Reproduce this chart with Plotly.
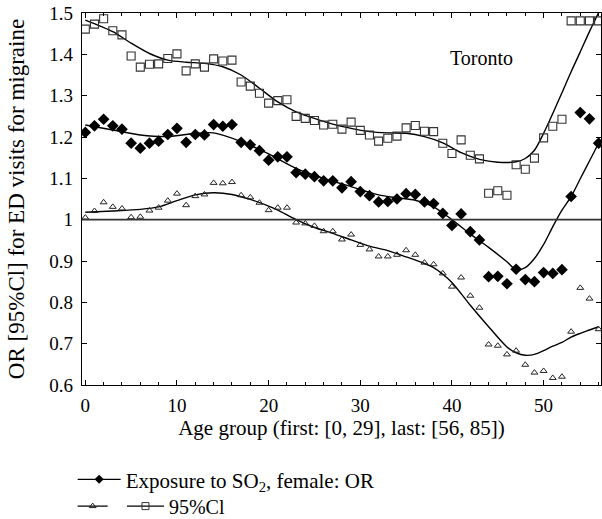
import plotly.graph_objects as go

age = list(range(57))

or_vals = [1.211, 1.227, 1.243, 1.227, 1.219, 1.185, 1.173, 1.185, 1.190, 1.206,
           1.221, 1.187, 1.206, 1.205, 1.230, 1.226, 1.230, 1.187, 1.181, 1.167,
           1.144, 1.152, 1.152, 1.114, 1.110, 1.104, 1.094, 1.094, 1.077, 1.092,
           1.068, 1.058, 1.043, 1.044, 1.050, 1.063, 1.061, 1.043, 1.039, 1.015,
           0.986, 1.014, 0.971, 0.951, 0.862, 0.863, 0.845, 0.880, 0.855, 0.850,
           0.872, 0.870, 0.879, 1.056, 1.259, 1.244, 1.185]

ci_upper = [1.461, 1.473, 1.486, 1.457, 1.447, 1.396, 1.369, 1.376, 1.377, 1.390,
            1.401, 1.360, 1.377, 1.369, 1.389, 1.384, 1.386, 1.333, 1.323, 1.306,
            1.282, 1.288, 1.290, 1.250, 1.245, 1.240, 1.229, 1.231, 1.219, 1.236,
            1.216, 1.205, 1.190, 1.197, 1.202, 1.222, 1.228, 1.214, 1.213, 1.185,
            1.160, 1.193, 1.156, 1.147, 1.064, 1.070, 1.059, 1.133, 1.122, 1.149,
            1.198, 1.226, 1.243, 1.481, 1.481, 1.481, 1.481]

ci_lower = [1.005, 1.021, 1.042, 1.031, 1.027, 1.006, 1.007, 1.022, 1.029, 1.046,
            1.063, 1.035, 1.057, 1.061, 1.089, 1.088, 1.091, 1.059, 1.054, 1.041,
            1.023, 1.029, 1.029, 0.993, 0.991, 0.985, 0.972, 0.972, 0.952, 0.964,
            0.939, 0.928, 0.911, 0.911, 0.915, 0.926, 0.915, 0.896, 0.892, 0.870,
            0.838, 0.860, 0.816, 0.787, 0.698, 0.695, 0.674, 0.683, 0.649, 0.630,
            0.634, 0.617, 0.620, 0.729, 0.835, 0.809, 0.735]

# smoothed curves
fit_or_x = [0, 3, 6, 9, 12, 14, 17, 20, 23, 26, 29, 32, 34, 36, 38, 40, 42, 44, 46,
            47, 48, 49, 50, 51, 52, 53, 54, 55, 56]
fit_or_y = [1.229, 1.217, 1.205, 1.201, 1.209, 1.210, 1.189, 1.159, 1.124, 1.100,
            1.080, 1.060, 1.053, 1.047, 1.031, 1.000, 0.965, 0.933, 0.898,
            0.879, 0.884, 0.906, 0.940, 0.983, 1.023, 1.056, 1.099, 1.142, 1.185]

fit_up_x = [0, 3, 5, 7, 9, 11, 13, 15, 17, 19, 21, 23, 25, 27, 29, 31, 33, 35, 37,
            39, 41, 43, 45, 47, 48, 49, 50, 51, 52, 53, 54, 55, 56]
fit_up_y = [1.483, 1.455, 1.427, 1.402, 1.386, 1.381, 1.378, 1.370, 1.350, 1.318,
            1.285, 1.261, 1.245, 1.231, 1.221, 1.213, 1.210, 1.209, 1.201, 1.186,
            1.162, 1.146, 1.139, 1.140, 1.148, 1.168, 1.209, 1.257, 1.307, 1.358,
            1.406, 1.455, 1.501]

fit_lo_x = [0, 3, 6, 8, 10, 12, 14, 16, 18, 20, 21, 23, 25, 27, 29, 31, 33, 35, 37,
            38, 39, 40, 42, 44, 46, 47, 48, 49, 50, 51, 52, 53, 54, 55, 56]
fit_lo_y = [1.018, 1.021, 1.025, 1.031, 1.046, 1.060, 1.065, 1.061, 1.049, 1.033,
            1.023, 1.000, 0.981, 0.967, 0.951, 0.936, 0.925, 0.910, 0.894,
            0.884, 0.868, 0.848, 0.793, 0.741, 0.692, 0.678, 0.672, 0.674, 0.683,
            0.694, 0.703, 0.716, 0.725, 0.733, 0.741]

y_ticks = [0.6, 0.7, 0.8, 0.9, 1.0, 1.1, 1.2, 1.3, 1.4, 1.5]
y_ticktext = ["0.6", "0.7", "0.8", "0.9", "1", "1.1", "1.2", "1.3", "1.4", "1.5"]
x_ticks = [0, 10, 20, 30, 40, 50]

FONT = "Liberation Serif"
fig = go.Figure()

# fitted curves
for fx, fy in [(fit_up_x, fit_up_y), (fit_or_x, fit_or_y), (fit_lo_x, fit_lo_y)]:
    fig.add_trace(go.Scatter(x=fx, y=fy, mode="lines",
                             line=dict(color="black", width=1.4, shape="spline", smoothing=0.8),
                             showlegend=False, hoverinfo="skip"))

fig.add_trace(go.Scatter(x=age, y=ci_upper, mode="markers",
                         marker=dict(symbol="square-open", size=8, color="#333", line=dict(width=1.1)),
                         showlegend=False))
fig.add_trace(go.Scatter(x=age, y=or_vals, mode="markers",
                         marker=dict(symbol="diamond", size=9, color="black"),
                         showlegend=False))
fig.add_trace(go.Scatter(x=age, y=ci_lower, mode="markers",
                         marker=dict(symbol="triangle-up-open", size=6, color="#222", line=dict(width=1)),
                         showlegend=False))

# legend entries
fig.add_trace(go.Scatter(x=[None], y=[None], mode="lines+markers",
                         name="Exposure to SO<sub>2</sub>, female: OR",
                         line=dict(color="black", width=1.2),
                         marker=dict(symbol="diamond", size=7, color="black"),
                         legend="legend"))
fig.add_trace(go.Scatter(x=[None], y=[None], mode="lines+markers", name=" ",
                         line=dict(color="black", width=1.2),
                         marker=dict(symbol="triangle-up-open", size=6, color="#222"),
                         legend="legend2"))
fig.add_trace(go.Scatter(x=[None], y=[None], mode="lines+markers", name="95%Cl",
                         line=dict(color="black", width=1.2),
                         marker=dict(symbol="square-open", size=7, color="#333"),
                         legend="legend3"))

fig.add_hline(y=1, line=dict(color="#333", width=1.6))

fig.add_annotation(x=43.2, y=1.391, text="Toronto", showarrow=False,
                   font=dict(family=FONT, size=20, color="black"))

legend_common = dict(bgcolor="rgba(0,0,0,0)", xanchor="left", yanchor="middle", orientation="v")

fig.update_layout(
    width=602, height=519,
    margin=dict(l=82, r=1, t=13, b=134, autoexpand=False),
    paper_bgcolor="white", plot_bgcolor="white",
    font=dict(family=FONT, size=20, color="black"),
    legend=dict(x=-0.018, y=-0.2545, itemwidth=43,
                font=dict(family=FONT, size=21, color="black"), **legend_common),
    legend2=dict(x=-0.018, y=-0.3255, itemwidth=30,
                 font=dict(family=FONT, size=20, color="black"), **legend_common),
    legend3=dict(x=0.077, y=-0.3255, itemwidth=37,
                 font=dict(family=FONT, size=20, color="black"), **legend_common),
    xaxis=dict(range=[-0.36, 56.26], tickvals=x_ticks, ticks="inside", ticklen=5, tickwidth=1,
               tickcolor="black", showline=True, linecolor="black", linewidth=1.3, mirror="ticks",
               showgrid=False, zeroline=False, automargin=False, ticklabelstandoff=3,
               ticklabeloverflow="allow",
               minor=dict(dtick=2, tick0=0, ticks="inside", ticklen=3, tickcolor="black", showgrid=False),
               title=dict(text="Age group (first: [0, 29], last: [56, 85])", standoff=5,
                          font=dict(family=FONT, size=21)),
               tickfont=dict(family=FONT, size=19)),
    yaxis=dict(range=[0.6, 1.5], tickvals=y_ticks, ticktext=y_ticktext, ticks="inside", ticklen=5,
               tickwidth=1, tickcolor="black", showline=True, linecolor="black", linewidth=1.3,
               mirror="ticks", showgrid=False, zeroline=False, automargin=False, ticklabelstandoff=4,
               ticklabeloverflow="allow",
               title=dict(text="OR [95%Cl] for ED visits for migraine", standoff=18,
                          font=dict(family=FONT, size=23)),
               tickfont=dict(family=FONT, size=19)),
)

# remove the page's default 8px body margin so the 602x519 figure fills the window exactly
fig.write_html("out.html", config={"displayModeBar": False},
               post_script="document.body.style.margin='0';")
